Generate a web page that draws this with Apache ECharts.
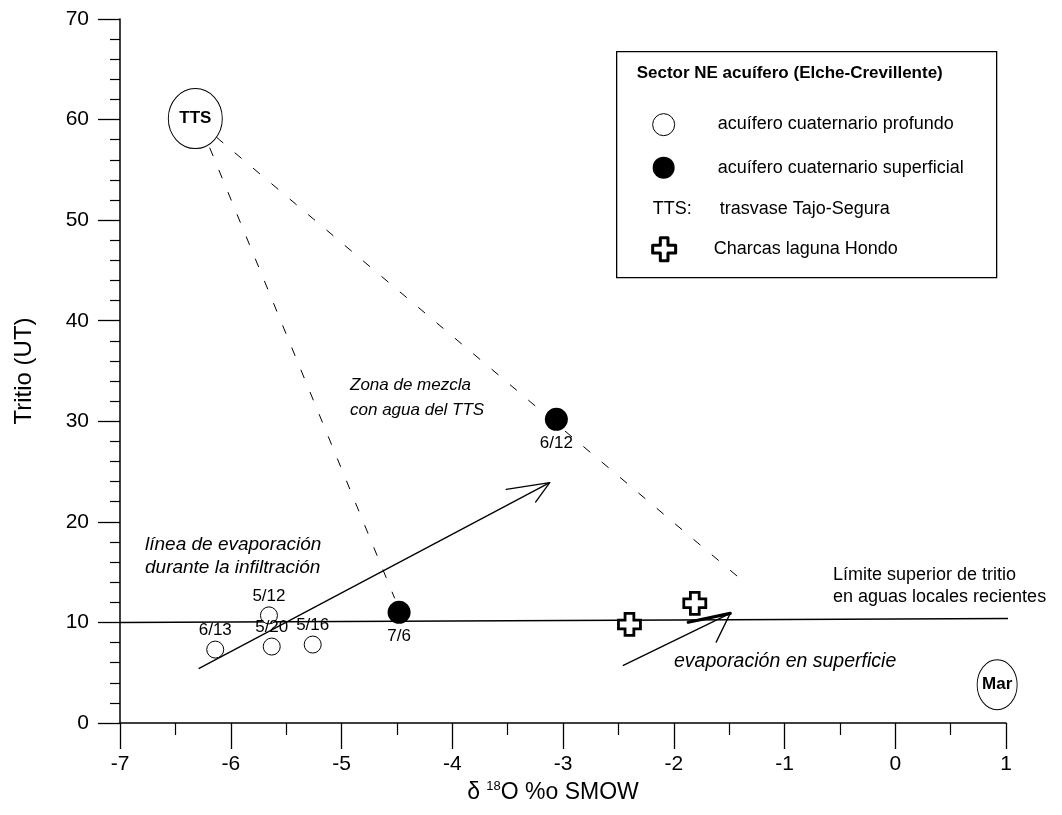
<!DOCTYPE html>
<html>
<head>
<meta charset="utf-8">
<script src="https://cdn.jsdelivr.net/npm/echarts@6/dist/echarts.min.js"></script>
<style>
  html, body { margin: 0; padding: 0; background: #fff; }
  #chart { width: 1062px; height: 815px; }
</style>
</head>
<body>
<div id="chart"></div>
<script>
// Axis ranges and ticks
const xTicks = [-7, -6, -5, -4, -3, -2, -1, 0, 1];
const yTicks = [0, 10, 20, 30, 40, 50, 60, 70];

// acuífero cuaternario profundo (open circles)
const profundoX = [-6.14, -5.655, -5.63, -5.26];
const profundoY = [7.3, 10.7, 7.6, 7.8];
const profundoLbl = ['6/13', '5/12', '5/20', '5/16'];

// acuífero cuaternario superficial (filled circles)
const superficialX = [-4.48, -3.06];
const superficialY = [11.0, 30.2];
const superficialLbl = ['7/6', '6/12'];

// Charcas laguna Hondo (crosses)
const charcasX = [-2.40, -1.81];
const charcasY = [9.8, 11.9];

// Reference waters
const refName = ['TTS', 'Mar'];
const refX = [-6.32, 0.92];
const refY = [60.1, 3.8];

// Mixing lines from TTS (dashed)
const mixStartX = [-6.19, -6.13];
const mixStartY = [57.2, 58.25];
const mixEndX = [-4.52, -1.33];
const mixEndY = [12.4, 13.7];

// Upper tritium limit of recent local waters
const limiteX = [-7, 1.08];
const limiteY = [10.0, 10.4];

// Evaporation arrows: tail -> tip
const arrowTailX = [-6.29, -2.46];
const arrowTailY = [5.4, 5.7];
const arrowTipX = [-3.12, -1.49];
const arrowTipY = [23.9, 10.9];

const FONT = "'Liberation Sans', Arial, sans-serif";

const pts = (xs, ys) => xs.map((x, i) => [x, ys[i]]);

// Arrowhead wing styles (angle offset in degrees, length px, width px)
const wingStyles = [
  [{ a: 19, l: 44, w: 1.3 }, { a: -26, l: 24, w: 1.3 }],
  [{ a: 14, l: 43, w: 3.2 }, { a: -38, l: 32, w: 1.3 }]
];

const plusPath = 'path://M6,0 H14 V6 H20 V14 H14 V20 H6 V14 H0 V6 H6 Z';

// plus outline for the legend, as polygon points
function plusPoints(ox, oy, s) {
  const a = s / 3, b = 2 * s / 3;
  return [[a, 0], [b, 0], [b, a], [s, a], [s, b], [b, b], [b, s], [a, s], [a, b], [0, b], [0, a], [a, a]]
    .map(p => [p[0] + ox, p[1] + oy]);
}

const chart = echarts.init(document.getElementById('chart'), null, { renderer: 'canvas' });

const mixSeries = mixStartX.map((sx, i) => ({
  type: 'line',
  data: [[sx, mixStartY[i]], [mixEndX[i], mixEndY[i]]],
  symbol: 'none',
  silent: true,
  z: 1,
  lineStyle: { color: '#000', width: 1, type: [9, 15] }
}));

const pointLabel = { color: '#000', fontSize: 17, fontFamily: FONT, opacity: 1 };

const option = {
  backgroundColor: '#fff',
  animation: false,
  grid: { left: 120, right: 56, top: 19, bottom: 92 },
  xAxis: {
    type: 'value',
    min: xTicks[0],
    max: xTicks[xTicks.length - 1],
    interval: 1,
    splitLine: { show: false },
    axisLine: { onZero: false, lineStyle: { color: '#000', width: 1.5 } },
    axisTick: { show: true, length: 26, lineStyle: { color: '#000', width: 1.3 } },
    minorTick: { show: true, splitNumber: 2, length: 12, lineStyle: { color: '#000', width: 1.2 } },
    axisLabel: { color: '#000', fontSize: 21, fontFamily: FONT, margin: 31 },
    name: '{a|δ }{b|18}{a|O %o SMOW}',
    nameLocation: 'middle',
    nameGap: 56,
    nameTextStyle: {
      color: '#000',
      fontFamily: FONT,
      padding: [0, 20, 0, 0],
      rich: {
        a: { fontSize: 23, fontFamily: FONT, color: '#000' },
        b: { fontSize: 13, fontFamily: FONT, color: '#000', padding: [0, 0, 13, 0] }
      }
    }
  },
  yAxis: {
    type: 'value',
    min: yTicks[0],
    max: yTicks[yTicks.length - 1],
    interval: 10,
    splitLine: { show: false },
    axisLine: { onZero: false, lineStyle: { color: '#000', width: 1.5 } },
    axisTick: { show: true, length: 22, lineStyle: { color: '#000', width: 1.3 } },
    minorTick: { show: true, splitNumber: 5, length: 10, lineStyle: { color: '#000', width: 1.2 } },
    axisLabel: { color: '#000', fontSize: 21, fontFamily: FONT, margin: 31 },
    name: 'Tritio (UT)',
    nameLocation: 'middle',
    nameGap: 84,
    nameTextStyle: { color: '#000', fontSize: 24, fontFamily: FONT }
  },
  series: [
    ...mixSeries,
    {
      type: 'line',
      data: pts(limiteX, limiteY),
      symbol: 'none',
      silent: true,
      clip: false,
      z: 1,
      lineStyle: { color: '#000', width: 1.4 }
    },
    {
      type: 'custom',
      silent: true,
      clip: false,
      z: 2,
      data: arrowTailX.map((x, i) => [x, arrowTailY[i], arrowTipX[i], arrowTipY[i]]),
      renderItem: function (params, api) {
        const p0 = api.coord([api.value(0), api.value(1)]);
        const p1 = api.coord([api.value(2), api.value(3)]);
        const ang = Math.atan2(p0[1] - p1[1], p0[0] - p1[0]);
        const children = [{
          type: 'line',
          shape: { x1: p0[0], y1: p0[1], x2: p1[0], y2: p1[1] },
          style: { stroke: '#000', lineWidth: 1.3 }
        }];
        wingStyles[params.dataIndex].forEach(function (w) {
          const t = ang + w.a * Math.PI / 180;
          children.push({
            type: 'line',
            shape: { x1: p1[0], y1: p1[1], x2: p1[0] + w.l * Math.cos(t), y2: p1[1] + w.l * Math.sin(t) },
            style: { stroke: '#000', lineWidth: w.w, lineCap: 'round' }
          });
        });
        return { type: 'group', children: children };
      }
    },
    {
      name: 'acuífero cuaternario profundo',
      type: 'scatter',
      z: 5,
      data: pts(profundoX, profundoY),
      symbol: 'circle',
      symbolSize: 17,
      itemStyle: { color: '#fff', borderColor: '#000', borderWidth: 1, opacity: 1 },
      label: Object.assign({ show: true, position: 'top', distance: 2, formatter: p => profundoLbl[p.dataIndex] }, pointLabel)
    },
    {
      name: 'acuífero cuaternario superficial',
      type: 'scatter',
      z: 5,
      data: pts(superficialX, superficialY),
      symbol: 'circle',
      symbolSize: 23,
      itemStyle: { color: '#000', opacity: 1 },
      label: Object.assign({ show: true, position: 'bottom', distance: 4, formatter: p => superficialLbl[p.dataIndex] }, pointLabel)
    },
    {
      name: 'Charcas laguna Hondo',
      type: 'scatter',
      z: 5,
      data: pts(charcasX, charcasY),
      symbol: plusPath,
      symbolSize: 22,
      itemStyle: { color: '#fff', borderColor: '#000', borderWidth: 2.8, opacity: 1 }
    },
    {
      type: 'scatter',
      z: 4,
      clip: false,
      data: pts(refX, refY),
      symbol: 'circle',
      symbolSize: (v, p) => (p.dataIndex === 0 ? [54, 60] : [40, 50]),
      itemStyle: { color: '#fff', borderColor: '#000', borderWidth: 1, opacity: 1 },
      label: {
        show: true,
        position: 'inside',
        color: '#000',
        fontWeight: 'bold',
        fontSize: 17,
        fontFamily: FONT,
        formatter: p => refName[p.dataIndex]
      }
    }
  ],
  graphic: [
    // annotations
    {
      type: 'text', left: 350, top: 373, silent: true,
      style: { text: 'Zona de mezcla\ncon agua del TTS', fill: '#000', font: 'italic 17px ' + FONT, lineHeight: 25 }
    },
    {
      type: 'text', left: 145, top: 533, silent: true,
      style: { text: 'línea de evaporación\ndurante la infiltración', fill: '#000', font: 'italic 19px ' + FONT, lineHeight: 23 }
    },
    {
      type: 'text', left: 833, top: 564, silent: true,
      style: { text: 'Límite superior de tritio\nen aguas locales recientes', fill: '#000', font: '18px ' + FONT, lineHeight: 22 }
    },
    {
      type: 'text', left: 674, top: 652, silent: true,
      style: { text: 'evaporación en superficie', fill: '#000', font: 'italic 19.5px ' + FONT }
    },
    // legend box
    {
      type: 'group', left: 616, top: 51, silent: true,
      children: [
        { type: 'rect', shape: { x: 0, y: 0, width: 380, height: 226 }, style: { fill: '#fff', stroke: '#000', lineWidth: 1.3 } },
        { type: 'text', x: 20, y: 22, style: { text: 'Sector NE acuífero (Elche-Crevillente)', fill: '#000', font: 'bold 17px ' + FONT, verticalAlign: 'middle' } },
        { type: 'circle', shape: { cx: 47, cy: 73, r: 11 }, style: { fill: '#fff', stroke: '#000', lineWidth: 1 } },
        { type: 'text', x: 101, y: 72, style: { text: 'acuífero cuaternario profundo', fill: '#000', font: '18px ' + FONT, verticalAlign: 'middle' } },
        { type: 'circle', shape: { cx: 47, cy: 116, r: 11 }, style: { fill: '#000' } },
        { type: 'text', x: 101, y: 116, style: { text: 'acuífero cuaternario superficial', fill: '#000', font: '18px ' + FONT, verticalAlign: 'middle' } },
        { type: 'text', x: 36, y: 157, style: { text: 'TTS:', fill: '#000', font: '18px ' + FONT, verticalAlign: 'middle' } },
        { type: 'text', x: 103, y: 157, style: { text: 'trasvase Tajo-Segura', fill: '#000', font: '18px ' + FONT, verticalAlign: 'middle' } },
        { type: 'polygon', shape: { points: plusPoints(36, 186, 23) }, style: { fill: '#fff', stroke: '#000', lineWidth: 3, lineJoin: 'round' } },
        { type: 'text', x: 97, y: 197, style: { text: 'Charcas laguna Hondo', fill: '#000', font: '18px ' + FONT, verticalAlign: 'middle' } }
      ]
    }
  ]
};

chart.setOption(option);
</script>
</body>
</html>
